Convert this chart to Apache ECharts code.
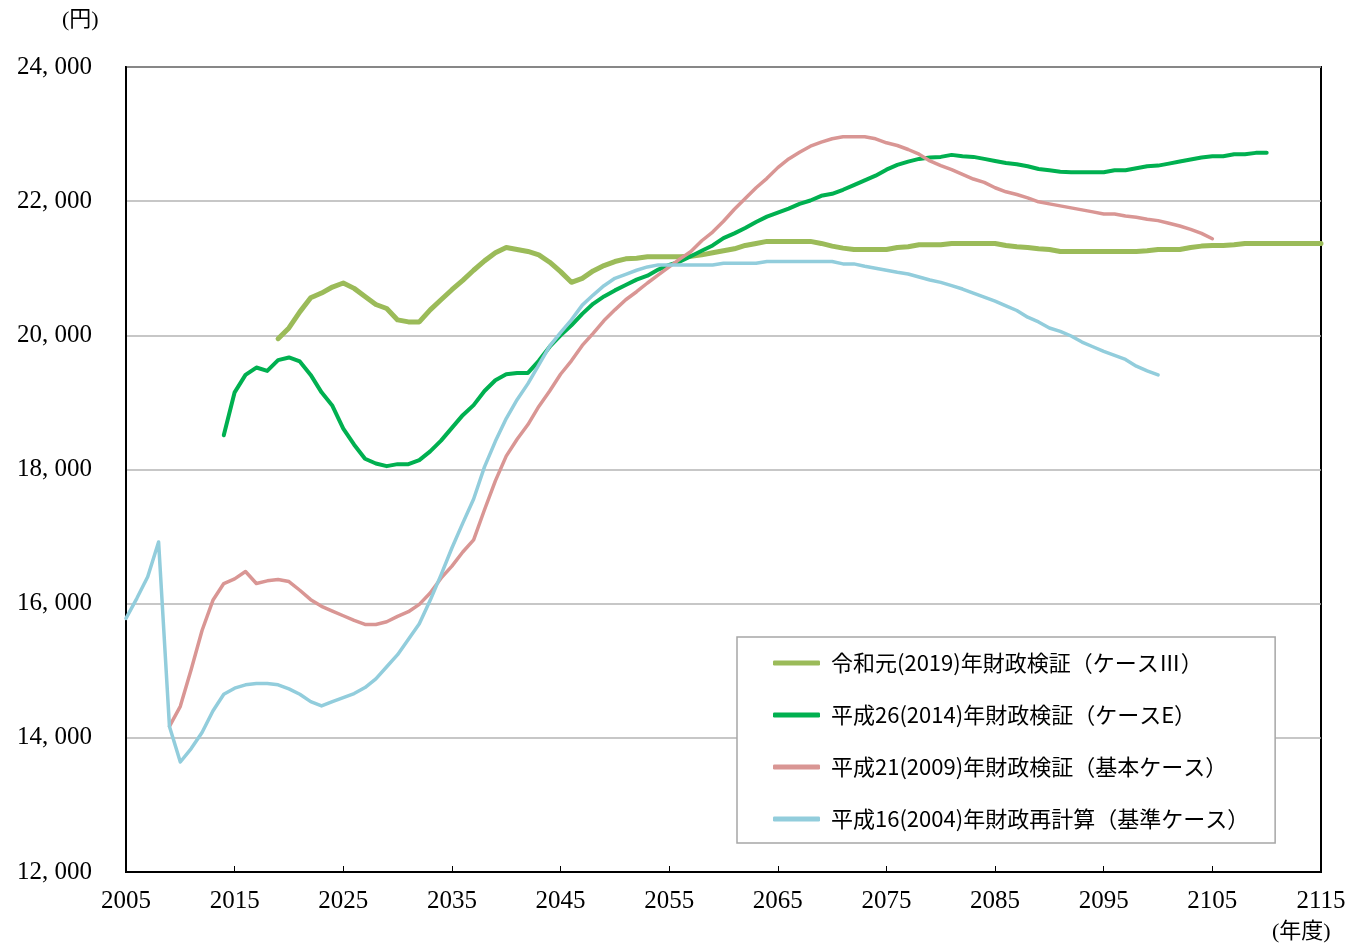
<!DOCTYPE html>
<html>
<head>
<meta charset="utf-8">
<script src="https://cdn.jsdelivr.net/npm/echarts@6/dist/echarts.min.js"></script>
<style>
  html, body { margin: 0; padding: 0; background: #fff; }
  #chart { width: 1349px; height: 945px; }
</style>
</head>
<body>
<div id="chart"></div>
<script>
const firstYear = 2005;
const lastYear = 2115;

const seriesNames = [
  '令和元(2019)年財政検証（ケースⅢ）',
  '平成26(2014)年財政検証（ケースE）',
  '平成21(2009)年財政検証（基本ケース）',
  '平成16(2004)年財政再計算（基準ケース）'
];

// 令和元(2019) 2019-2115
const reiwa2019Start = 2019;
const reiwa2019 = [
  19950, 20110, 20350, 20560, 20630, 20720, 20780, 20700, 20580, 20460,
  20400, 20230, 20200, 20200, 20380, 20530, 20680, 20820, 20970, 21110,
  21230, 21310, 21280, 21250, 21200, 21090, 20950, 20790, 20850, 20960,
  21040, 21100, 21140, 21150, 21170, 21170, 21170, 21170, 21180, 21200,
  21230, 21260, 21290, 21340, 21370, 21400, 21400, 21400, 21400, 21400,
  21370, 21330, 21300, 21280, 21280, 21280, 21280, 21310, 21320, 21350,
  21350, 21350, 21370, 21370, 21370, 21370, 21370, 21340, 21320, 21310,
  21290, 21280, 21250, 21250, 21250, 21250, 21250, 21250, 21250, 21250,
  21260, 21280, 21280, 21280, 21310, 21330, 21340, 21340, 21350, 21370,
  21370, 21370, 21370, 21370, 21370, 21370, 21370
];

// 平成26(2014) 2014-2110
const heisei2014Start = 2014;
const heisei2014 = [
  18510, 19150, 19410, 19520, 19470, 19630, 19670, 19610, 19410, 19150,
  18950, 18610, 18370, 18160, 18090, 18050, 18080, 18080, 18140, 18270,
  18430, 18620, 18810, 18960, 19170, 19330, 19420, 19440, 19440, 19620,
  19830, 20000, 20150, 20320, 20470, 20580, 20670, 20750, 20830, 20890,
  20980, 21050, 21100, 21180, 21260, 21340, 21450, 21520, 21600, 21690,
  21770, 21830, 21890, 21960, 22010, 22080, 22110, 22170, 22240, 22310,
  22380, 22470, 22540, 22590, 22630, 22650, 22660, 22690, 22670, 22660,
  22630, 22600, 22570, 22550, 22520, 22480, 22460, 22440, 22430, 22430,
  22430, 22430, 22460, 22460, 22490, 22520, 22530, 22560, 22590, 22620,
  22650, 22670, 22670, 22700, 22700, 22720, 22720
];

// 平成21(2009) 2009-2105
const heisei2009Start = 2009;
const heisei2009 = [
  14170, 14470, 15020, 15600, 16050, 16300, 16370, 16480, 16300, 16340,
  16360, 16330, 16200, 16060, 15960, 15890, 15820, 15750, 15690, 15690,
  15730, 15810, 15880, 15990, 16160, 16380, 16560, 16770, 16950, 17400,
  17830, 18200, 18450, 18670, 18940, 19170, 19420, 19620, 19850, 20030,
  20220, 20380, 20530, 20650, 20780, 20900, 21020, 21140, 21250, 21410,
  21540, 21700, 21880, 22040, 22200, 22340, 22500, 22630, 22730, 22820,
  22880, 22930, 22960, 22960, 22960, 22930, 22870, 22830, 22770, 22700,
  22600, 22530, 22470, 22400, 22330, 22280, 22200, 22140, 22100, 22050,
  21990, 21960, 21930, 21900, 21870, 21840, 21810, 21810, 21780, 21760,
  21730, 21710, 21670, 21630, 21580, 21520, 21440
];

// 平成16(2004) 2005-2100
const heisei2004Start = 2005;
const heisei2004 = [
  15780, 16080, 16400, 16920, 14170, 13640, 13840, 14080, 14400, 14650,
  14740, 14790, 14810, 14810, 14790, 14730, 14650, 14540, 14475, 14540,
  14600, 14660, 14750, 14880, 15060, 15240, 15470, 15700, 16050, 16430,
  16830, 17200, 17560, 18040, 18420, 18760, 19040, 19280, 19560, 19840,
  20040, 20230, 20450, 20600, 20740, 20850, 20910, 20970, 21020, 21050,
  21050, 21050, 21050, 21050, 21050, 21075, 21075, 21075, 21075, 21100,
  21100, 21100, 21100, 21100, 21100, 21100, 21065, 21065, 21030, 21000,
  20970, 20940, 20915, 20870, 20825, 20790, 20740, 20690, 20630, 20570,
  20510, 20440, 20370, 20270, 20200, 20110, 20060, 19990, 19900, 19830,
  19760, 19700, 19640, 19540, 19470, 19410
];

const seriesColors = ['#9bbb59', '#00b050', '#d99694', '#92cddc'];
const seriesWidths = [5, 4, 3.5, 3.5];

function makeYears() {
  const years = [];
  for (let y = firstYear; y <= lastYear; y++) years.push(String(y));
  return years;
}

// put values on the full year axis, empty years stay null
function onYearAxis(start, values) {
  const out = [];
  for (let y = firstYear; y <= lastYear; y++) {
    const i = y - start;
    out.push(i >= 0 && i < values.length ? values[i] : null);
  }
  return out;
}

function yLabel(v) {
  const s = String(v);
  return s.slice(0, s.length - 3) + ', ' + s.slice(-3);
}

const serifFont = '"Liberation Serif", "DejaVu Serif", "Noto Sans CJK JP", serif';
const sansFont = '"Noto Sans CJK JP", "Noto Sans", sans-serif';

const chart = echarts.init(document.getElementById('chart'), null, { renderer: 'canvas' });
const lines = [
  [reiwa2019Start, reiwa2019],
  [heisei2014Start, heisei2014],
  [heisei2009Start, heisei2009],
  [heisei2004Start, heisei2004]
];

chart.setOption({
  animation: false,
  backgroundColor: '#fff',
  grid: {
    left: 126, right: 28, top: 67, bottom: 73,
    show: true, borderColor: '#000', borderWidth: 2
  },
  xAxis: {
    type: 'category',
    data: makeYears(),
    boundaryGap: false,
    axisLine: { lineStyle: { color: '#000', width: 2 } },
    axisTick: { interval: 9, inside: true, length: 6, lineStyle: { color: '#000', width: 1 } },
    axisLabel: { interval: 9, margin: 17, color: '#000', fontSize: 25, fontFamily: serifFont },
    splitLine: { show: false }
  },
  yAxis: {
    type: 'value',
    min: 12000, max: 24000, interval: 2000,
    axisLine: { show: true, lineStyle: { color: '#000', width: 2 } },
    axisTick: { show: false },
    axisLabel: { margin: 34, color: '#000', fontSize: 25, fontFamily: serifFont, formatter: yLabel },
    splitLine: { lineStyle: { color: '#b4b4b4', width: 1.5 } }
  },
  legend: {
    orient: 'vertical',
    left: 737, top: 637,
    padding: [14, 26, 12, 36],
    itemGap: 28,
    itemWidth: 47, itemHeight: 5,
    icon: 'roundRect',
    backgroundColor: '#fff',
    borderColor: '#a6a6a6', borderWidth: 1.5,
    textStyle: { fontSize: 22, lineHeight: 24, color: '#000', fontFamily: sansFont, padding: [0, 0, 0, 6] },
    data: seriesNames
  },
  graphic: [
    { type: 'text', left: 62, top: 9, style: { text: '(円)', fontSize: 22, fontFamily: serifFont, fill: '#000' } },
    { type: 'text', left: 1272, top: 921, style: { text: '(年度)', fontSize: 22, fontFamily: serifFont, fill: '#000' } }
  ],
  series: lines.map(([start, values], i) => ({
    name: seriesNames[i],
    type: 'line',
    data: onYearAxis(start, values),
    symbol: 'none',
    connectNulls: false,
    lineStyle: { color: seriesColors[i], width: seriesWidths[i], join: 'round', cap: 'round' },
    itemStyle: { color: seriesColors[i] }
  }))
});
</script>
</body>
</html>
